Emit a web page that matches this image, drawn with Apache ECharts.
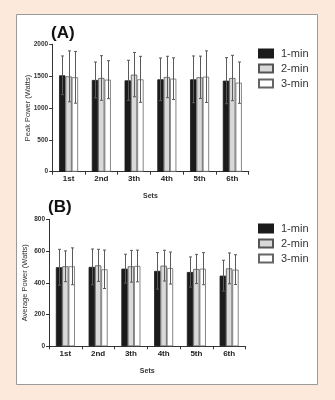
<!DOCTYPE html>
<html>
<head>
<meta charset="utf-8">
<script src="https://cdn.jsdelivr.net/npm/echarts@6/dist/echarts.min.js"></script>
<style>
  html, body { margin: 0; padding: 0; background: #fde9dc; }
  #chart { width: 335px; height: 400px; }
</style>
</head>
<body>
<div id="chart"></div>
<script>
// Sets on the x axis
const sets = ['1st', '2nd', '3th', '4th', '5th', '6th'];
const restNames = ['1-min', '2-min', '3-min'];

// (A) Peak power, mean and SD per set
const peak1Mean = [1513, 1440, 1434, 1450, 1450, 1429];
const peak1Sd   = [304, 282, 315, 335, 367, 362];
const peak2Mean = [1497, 1471, 1524, 1487, 1482, 1471];
const peak2Sd   = [400, 350, 348, 325, 332, 356];
const peak3Mean = [1482, 1445, 1450, 1461, 1492, 1398];
const peak3Sd   = [406, 298, 361, 327, 405, 324];

// (B) Average power, mean and SD per set
const avg1Mean = [498, 500, 489, 475, 468, 445];
const avg1Sd   = [113, 113, 91, 115, 95, 97];
const avg2Mean = [504, 510, 504, 508, 487, 491];
const avg2Sd   = [97, 101, 100, 97, 92, 97];
const avg3Mean = [504, 485, 506, 493, 489, 483];
const avg3Sd   = [116, 121, 100, 101, 101, 94];

const barColors = ['#1b1b1b', '#d9d9d9', '#ffffff'];
const barBorders = ['#1b1b1b', '#555555', '#666666'];
const CAT_GAP = 0.42;

function barSeries(name, idx, axisIdx, values) {
  return {
    name: name, type: 'bar', xAxisIndex: axisIdx, yAxisIndex: axisIdx,
    data: values, barGap: '0%', barCategoryGap: (CAT_GAP * 100) + '%',
    itemStyle: { color: barColors[idx], borderColor: barBorders[idx], borderWidth: 0.8 },
    emphasis: { disabled: true }, z: 2
  };
}

function errSeries(idx, axisIdx, means, sds) {
  return {
    type: 'custom', xAxisIndex: axisIdx, yAxisIndex: axisIdx, z: 3, silent: true,
    data: means.map((m, i) => [i, m + sds[i], m - sds[i]]),
    renderItem: function (params, api) {
      const band = api.size([1, 0])[0];
      const bw = band * (1 - CAT_GAP) / 3;
      const c = api.coord([api.value(0), 0]);
      const x = Math.round(c[0] + (idx - 1) * bw) + 0.5;
      const top = api.coord([api.value(0), api.value(1)])[1];
      const bot = api.coord([api.value(0), api.value(2)])[1];
      const st = { stroke: '#5a5a5a', lineWidth: 1 };
      return {
        type: 'group', children: [
          { type: 'line', shape: { x1: x, y1: top, x2: x, y2: bot }, style: st },
          { type: 'line', shape: { x1: x - 1.5, y1: top, x2: x + 1.5, y2: top }, style: st },
          { type: 'line', shape: { x1: x - 1.5, y1: bot, x2: x + 1.5, y2: bot }, style: st }
        ]
      };
    }
  };
}

function xAxisCfg(gridIdx) {
  return {
    type: 'category', gridIndex: gridIdx, data: sets,
    name: 'Sets', nameLocation: 'middle', nameGap: 21,
    nameTextStyle: { fontSize: 7, fontWeight: 'bold', color: '#333', fontFamily: 'Liberation Sans' },
    axisLine: { lineStyle: { color: '#333', width: 1 } },
    axisTick: { show: true, length: 3, lineStyle: { color: '#333' }, alignWithLabel: false },
    axisLabel: { fontSize: 8, fontWeight: 'bold', color: '#222', margin: 3, fontFamily: 'Liberation Sans' }
  };
}

function yAxisCfg(gridIdx, name, max, interval) {
  return {
    type: 'value', gridIndex: gridIdx, min: 0, max: max, interval: interval,
    name: name, nameLocation: 'middle', nameGap: 20, nameRotate: 90, nameMoveOverlap: false,
    nameTextStyle: { fontSize: 7.5, color: '#333', fontFamily: 'Liberation Sans' },
    axisLine: { show: true, lineStyle: { color: '#333', width: 1 } },
    axisTick: { show: true, length: 3, lineStyle: { color: '#333' } },
    axisLabel: { fontSize: 6.5, fontWeight: 'bold', color: '#333', margin: 4, fontFamily: 'Liberation Sans',
                 formatter: v => String(v) },
    splitLine: { show: false }
  };
}

function legendCfg(top) {
  return {
    orient: 'vertical', left: 258, top: top, padding: 0, icon: 'rect',
    itemWidth: 14, itemHeight: 8, itemGap: 4,
    selectedMode: false, data: restNames,
    textStyle: { fontSize: 11, color: '#333', fontFamily: 'Liberation Sans', padding: [0, 0, 0, 3] }
  };
}

const chart = echarts.init(document.getElementById('chart'), null, { renderer: 'canvas' });
chart.setOption({
  animation: false,
  backgroundColor: '#fde9dc',
  graphic: [{
    type: 'rect', z: -10, silent: true,
    shape: { x: 16.5, y: 14.5, width: 301, height: 370 },
    style: { fill: '#ffffff', stroke: '#9a9a9a', lineWidth: 1 }
  }],
  title: [
    { text: '(A)', left: 51, top: 25, padding: 0, textStyle: { fontSize: 17, fontWeight: 'bold', color: '#111', fontFamily: 'Liberation Sans' } },
    { text: '(B)', left: 48, top: 199, padding: 0, textStyle: { fontSize: 17, fontWeight: 'bold', color: '#111', fontFamily: 'Liberation Sans' } }
  ],
  legend: [legendCfg(48), legendCfg(223)],
  grid: [
    { left: 52.2, top: 44.3, width: 196.5, height: 127.4 },
    { left: 49, top: 219.3, width: 196.5, height: 127 }
  ],
  xAxis: [xAxisCfg(0), xAxisCfg(1)],
  yAxis: [
    yAxisCfg(0, 'Peak Power (Watts)', 2000, 500),
    yAxisCfg(1, 'Average Power (Watts)', 800, 200)
  ],
  series: [
    barSeries(restNames[0], 0, 0, peak1Mean),
    barSeries(restNames[1], 1, 0, peak2Mean),
    barSeries(restNames[2], 2, 0, peak3Mean),
    errSeries(0, 0, peak1Mean, peak1Sd),
    errSeries(1, 0, peak2Mean, peak2Sd),
    errSeries(2, 0, peak3Mean, peak3Sd),
    barSeries(restNames[0], 0, 1, avg1Mean),
    barSeries(restNames[1], 1, 1, avg2Mean),
    barSeries(restNames[2], 2, 1, avg3Mean),
    errSeries(0, 1, avg1Mean, avg1Sd),
    errSeries(1, 1, avg2Mean, avg2Sd),
    errSeries(2, 1, avg3Mean, avg3Sd)
  ]
});
</script>
</body>
</html>
